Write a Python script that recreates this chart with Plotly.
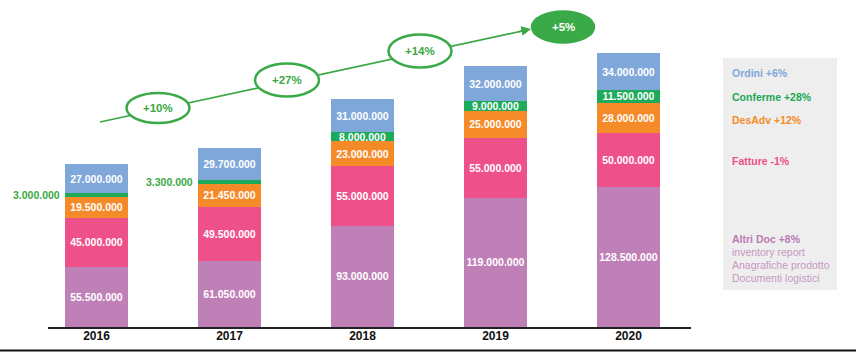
import plotly.graph_objects as go

years = ["2016", "2017", "2018", "2019", "2020"]
altri_doc = [55500000, 61050000, 93000000, 119000000, 128500000]
fatture = [45000000, 49500000, 55000000, 55000000, 50000000]
desadv = [19500000, 21450000, 23000000, 25000000, 28000000]
conferme = [3000000, 3300000, 8000000, 9000000, 11500000]
ordini = [27000000, 29700000, 31000000, 32000000, 34000000]
totals = [150, 165, 210, 240, 252]
growth = ["+10%", "+27%", "+14%", "+5%"]
legend_lines = [("Ordini +6%", "#7FA7D9", True), ("Conferme +28%", "#1DA658", True),
                ("DesAdv +12%", "#F58A28", True), ("Fatture -1%", "#EE4E89", True),
                ("Altri Doc +8%", "#B97BB5", True), ("inventory report", "#C898C3", False),
                ("Anagrafiche prodotto", "#C898C3", False), ("Documenti logistici", "#C898C3", False)]

FONT = "Liberation Sans, Arial, sans-serif"
W, H = 856, 352
L, T, B = 30, 10, 25
PW = 665
PH = H - T - B
R = W - L - PW


def fmt(v):
    return f"{v:,}".replace(",", ".")


def px(x):
    return (x - L) / PW


def py(y):
    return (H - B - y) / PH


series = [
    ("Altri Doc", altri_doc, "#BF80B8"),
    ("Fatture", fatture, "#EE5189"),
    ("DesAdv", desadv, "#F58A28"),
    ("Conferme", conferme, "#1DAA5A"),
    ("Ordini", ordini, "#7FA7D9"),
]

fig = go.Figure()
for name, vals, color in series:
    texts = []
    for i, v in enumerate(vals):
        if name == "Conferme" and i < 2:
            texts.append("")
        else:
            texts.append(fmt(v))
    fig.add_trace(go.Bar(
        x=years, y=vals, name=name, marker=dict(color=color, line=dict(width=0)),
        text=texts, textposition="inside", insidetextanchor="middle", textangle=0,
        textfont=dict(family=FONT, size=10.5, color="white", weight="bold"),
        hoverinfo="skip", cliponaxis=False,
    ))

ymax = PH / 1.087 * 1e6
fig.update_layout(
    barmode="stack", bargap=0.52, width=W, height=H,
    margin=dict(l=L, r=R, t=T, b=B, autoexpand=False),
    plot_bgcolor="white", paper_bgcolor="white", showlegend=False,
    uniformtext=dict(minsize=10.5, mode="show"),
    font=dict(family=FONT),
    xaxis=dict(type="category", range=[-0.5, 4.5], showline=False, ticks="",
               automargin=False,
               tickfont=dict(family=FONT, size=12, color="#111111", weight="bold"),
               showgrid=False, zeroline=False, fixedrange=True),
    yaxis=dict(range=[0, ymax], visible=False, showgrid=False, zeroline=False),
)

annotations = []
# totals
for i, t in enumerate(totals):
    s = sum(s_[1][i] for s_ in series)
    annotations.append(dict(x=years[i], y=s, text=f"<b>{t}</b>", showarrow=False,
                            yanchor="bottom", yshift=3,
                            font=dict(family=FONT, size=12, color="#2B3A8C")))
# small Conferme labels outside
for i in range(2):
    ymid = altri_doc[i] + fatture[i] + desadv[i] + conferme[i] / 2
    annotations.append(dict(x=i - 0.24, y=ymid, text=f"<b>{fmt(conferme[i])}</b>",
                            showarrow=False, xanchor="right", xshift=-3,
                            font=dict(family=FONT, size=10.5, color="#3AA844")))

shapes = []
# axis line and bottom border
shapes.append(dict(type="line", xref="paper", yref="paper", x0=px(48), x1=px(691),
                   y0=py(328), y1=py(328), line=dict(color="#222222", width=2)))
shapes.append(dict(type="line", xref="paper", yref="paper", x0=px(0), x1=px(856),
                   y0=py(350.5), y1=py(350.5), line=dict(color="#111111", width=2)))
# trend line
shapes.append(dict(type="line", xref="paper", yref="paper", x0=px(100), y0=py(122),
                   x1=px(527), y1=py(30), line=dict(color="#3AA844", width=1.6)))
# arrowhead
annotations.append(dict(xref="paper", yref="paper", x=px(531), y=py(29), ax=-14, ay=3,
                        text="", showarrow=True, arrowhead=2, arrowsize=1.2, arrowwidth=1.6,
                        arrowcolor="#3AA844"))
# ellipses
ells = [(158, 108, 63, 30), (287, 80, 64, 33), (420, 51, 63, 33), (563, 27, 62, 31)]
for k, (cx, cy, w, h) in enumerate(ells):
    filled = k == 3
    shapes.append(dict(type="circle", xref="paper", yref="paper",
                       x0=px(cx - w / 2), x1=px(cx + w / 2), y0=py(cy + h / 2), y1=py(cy - h / 2),
                       fillcolor="#3AAA48" if filled else "white",
                       line=dict(color="#3AAA48", width=2.5)))
    annotations.append(dict(xref="paper", yref="paper", x=px(cx), y=py(cy), text=f"<b>{growth[k]}</b>",
                            xanchor="center", yanchor="middle",
                            showarrow=False, font=dict(family=FONT, size=11.5,
                                                       color="white" if filled else "#3AA844")))
# legend box
shapes.append(dict(type="rect", xref="paper", yref="paper", x0=px(723), x1=px(837),
                   y0=py(290), y1=py(58), fillcolor="#EEEEEE", line=dict(width=0), layer="below"))
legend_y = [73, 97, 120, 161, 239, 252, 265, 278]
for (txt, col, bold), yy in zip(legend_lines, legend_y):
    annotations.append(dict(xref="paper", yref="paper", x=px(730), y=py(yy), xanchor="left",
                            yanchor="middle", text=f"<b>{txt}</b>" if bold else txt,
                            showarrow=False, font=dict(family=FONT, size=10.5, color=col)))

fig.update_layout(shapes=shapes, annotations=annotations)
fig.write_html("out.html")
